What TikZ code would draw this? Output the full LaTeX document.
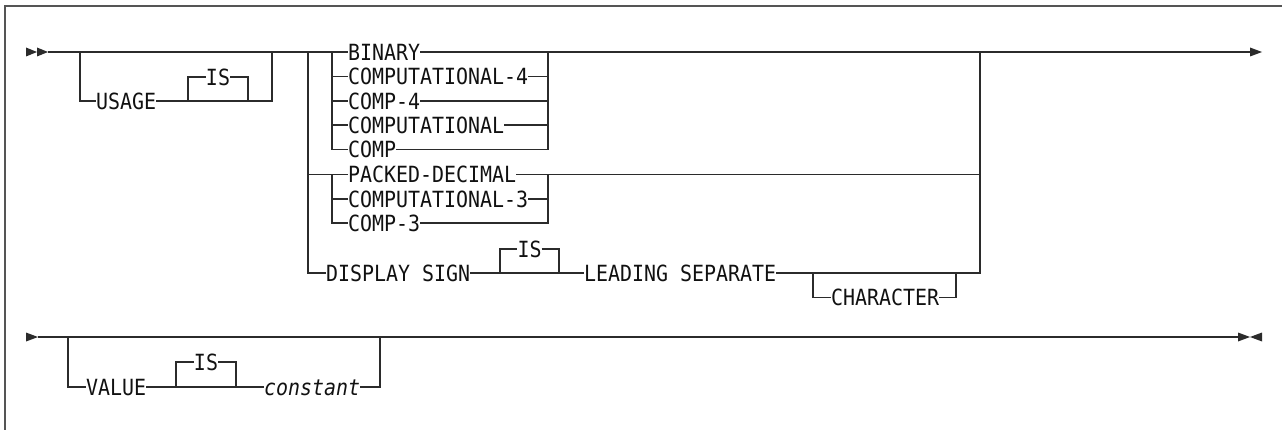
\documentclass[tikz,border=0pt]{standalone}
\usepackage{fontspec}
\newfontfamily\kwfont{DejaVu Sans Mono}[FakeStretch=0.894]
\definecolor{linec}{HTML}{2B2B2B}
\definecolor{framec}{HTML}{555555}
\definecolor{textc}{HTML}{111111}
\tikzset{
  rr/.style={line width=1.3pt, draw=linec},
  kw/.style={font=\kwfont\fontsize{22.3pt}{24pt}\selectfont, inner sep=0pt, text height=16.2pt, text depth=0pt, anchor=west, text=textc},
  kwc/.style={kw, anchor=center},
  tip/.style={fill=linec, draw=none}
}
\begin{document}
\begin{tikzpicture}[x=1pt,y=-1pt]
\useasboundingbox (0,0) rectangle (1282,430);
% frame
\coordinate (fBL) at (5,430); \coordinate (fTL) at (5,6); \coordinate (fTR) at (1282,6);
\draw[framec, line width=2pt] (fBL) -- (fTL) -- (fTR);

% ---------- line 1 ----------
\coordinate (s1) at (48,52);
\coordinate (e1) at (1250,52);
\fill[tip] (26,47.5) -- (37,52) -- (26,56.5) -- cycle;
\fill[tip] (37,47.5) -- (48,52) -- (37,56.5) -- cycle;
\fill[tip] (1250,47.5) -- (1262,52) -- (1250,56.5) -- cycle;

% USAGE group
\coordinate (uL) at (80,52); \coordinate (uR) at (272,52);
\coordinate (uIsL) at (188,101); \coordinate (uIsR) at (248,101);
\node[kw] (usage) at (96,101) {USAGE};
\node[kwc] (uis) at (218,77) {IS};
\draw[rr] (uL) |- (usage.west);
\draw[rr] (usage.east) -- (uR |- usage.east) -- (uR);
\draw[rr] (uIsL) |- (uis.west);
\draw[rr] (uis.east) -| (uIsR);

% main choice
\coordinate (cL) at (308,52); \coordinate (iL) at (332,52);
\coordinate (iR) at (548,52); \coordinate (cR) at (980,52);
\node[kw] (binary) at (348,52) {BINARY};
\node[kw] (c4) at (348,76.5) {COMPUTATIONAL-4};
\node[kw] (comp4) at (348,101) {COMP-4};
\node[kw] (comput) at (348,125) {COMPUTATIONAL};
\node[kw] (comp) at (348,149.5) {COMP};
\node[kw] (packed) at (348,174.5) {PACKED-DECIMAL};
\node[kw] (c3) at (348,199) {COMPUTATIONAL-3};
\node[kw] (comp3) at (348,223) {COMP-3};
\node[kw] (display) at (326,273) {DISPLAY SIGN};
\node[kwc] (dis) at (529.5,249) {IS};
\node[kw] (leading) at (584,273) {LEADING SEPARATE};
\node[kw] (character) at (831,297.5) {CHARACTER};

\draw[rr] (s1) -- (binary.west);
\draw[rr] (binary.east) -- (e1);

\draw[rr] (cL) |- (display.west);
\draw[rr] (iL) |- (comp.west);
\draw[rr] (iL |- c4) -- (c4.west);
\draw[rr] (iL |- comp4) -- (comp4.west);
\draw[rr] (iL |- comput) -- (comput.west);
\draw[rr] (c4.east) -- (iR |- c4);
\draw[rr] (comp4.east) -- (iR |- comp4);
\draw[rr] (comput.east) -- (iR |- comput);
\draw[rr] (comp.east) -| (iR);

\draw[rr] (cL |- packed) -- (packed.west);
\draw[rr] (packed.east) -- (cR |- packed);
\draw[rr] (iL |- packed) |- (comp3.west);
\draw[rr] (iL |- c3) -- (c3.west);
\draw[rr] (c3.east) -- (iR |- c3);
\draw[rr] (comp3.east) -| (iR |- packed);

\coordinate (dL) at (500,273); \coordinate (dR) at (559,273);
\draw[rr] (display.east) -- (leading.west);
\draw[rr] (dL) |- (dis.west);
\draw[rr] (dis.east) -| (dR);
\draw[rr] (leading.east) -| (cR);

\coordinate (chL) at (813,273); \coordinate (chR) at (956,273);
\draw[rr] (chL) |- (character.west);
\draw[rr] (character.east) -| (chR);

% ---------- line 2 ----------
\coordinate (s2) at (38,337);
\coordinate (e2) at (1238,337);
\fill[tip] (26,332.5) -- (38,337) -- (26,341.5) -- cycle;
\fill[tip] (1238,332.5) -- (1250,337) -- (1238,341.5) -- cycle;
\fill[tip] (1262,332.5) -- (1250,337) -- (1262,341.5) -- cycle;
\draw[rr] (s2) -- (e2);

\coordinate (vL) at (68,337); \coordinate (vR) at (380,337);
\coordinate (vIsL) at (176,387); \coordinate (vIsR) at (236,387);
\node[kw] (value) at (86,387) {VALUE};
\node[kwc] (vis) at (206,362) {IS};
\node[kw] (constant) at (264,387) {\itshape constant};
\draw[rr] (vL) |- (value.west);
\draw[rr] (value.east) -- (constant.west);
\draw[rr] (vIsL) |- (vis.west);
\draw[rr] (vis.east) -| (vIsR);
\draw[rr] (constant.east) -| (vR);
\end{tikzpicture}
\end{document}
